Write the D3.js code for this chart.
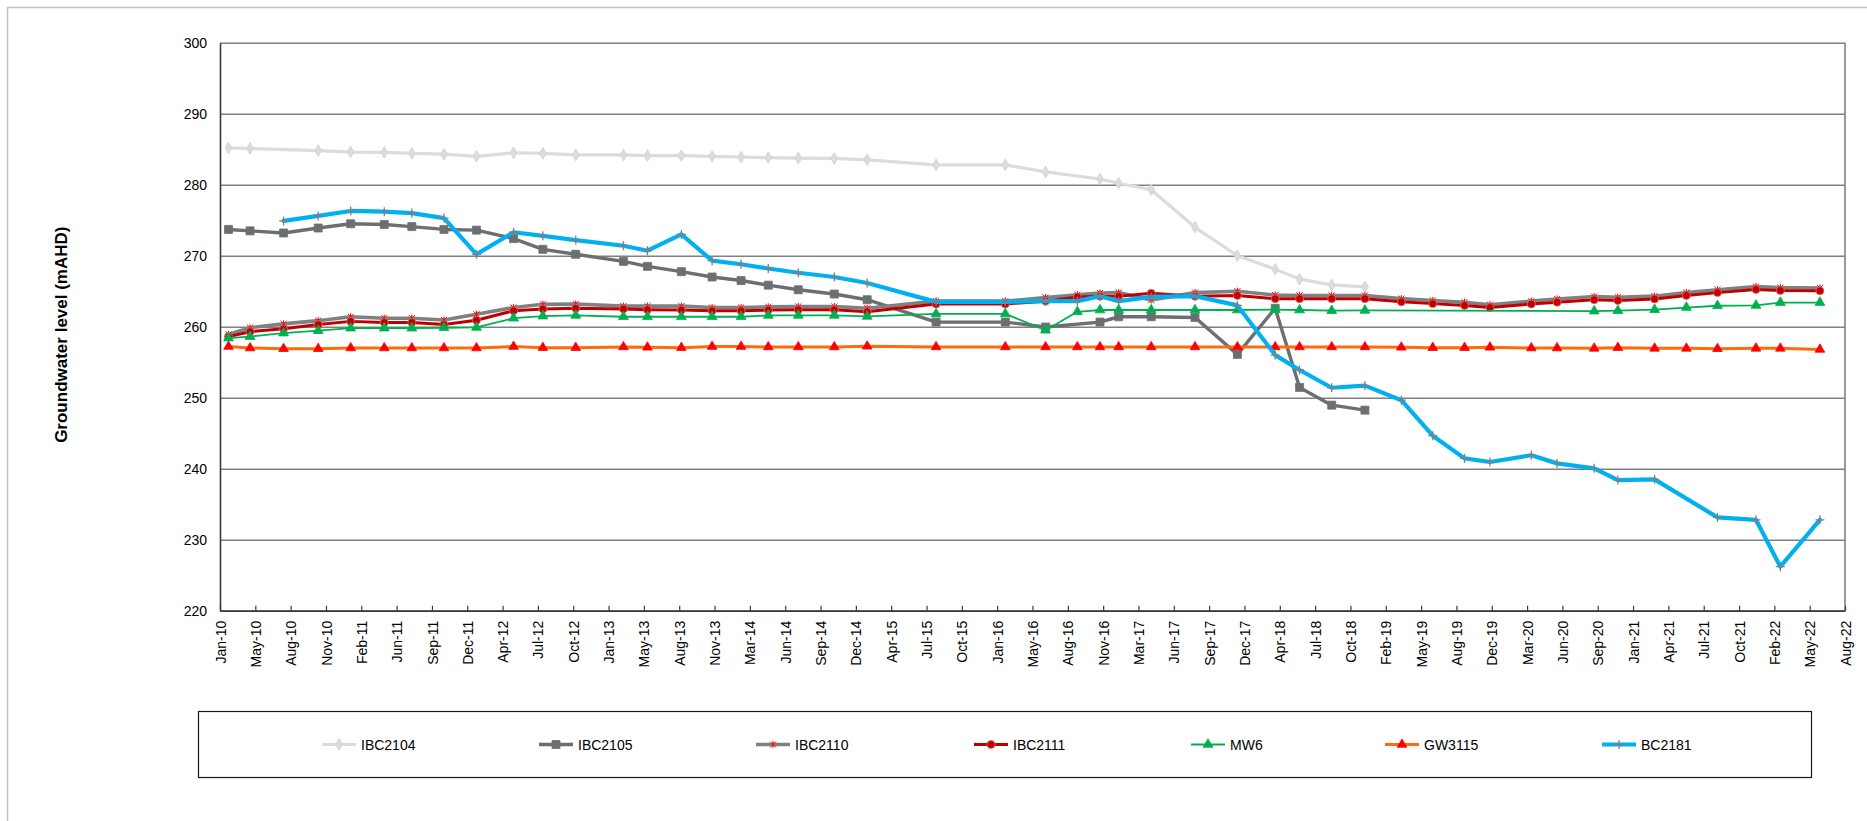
<!DOCTYPE html>
<html>
<head>
<meta charset="utf-8">
<script src="https://cdn.jsdelivr.net/npm/d3@7"></script>
<style>
  html, body { margin: 0; padding: 0; background: #ffffff; }
  svg { display: block; }
  text { font-family: "Liberation Sans", Arial, sans-serif; }
</style>
</head>
<body>
<svg id="chart" width="1867" height="821"></svg>
<script>
// ---------------- DATA ----------------
const dates = [
  "2010-02-15","2010-04-17","2010-07-21","2010-10-27","2011-01-27","2011-05-02","2011-07-19","2011-10-18",
  "2012-01-18","2012-05-02","2012-07-24","2012-10-25","2013-03-09","2013-05-16","2013-08-20","2013-11-15",
  "2014-02-05","2014-04-23","2014-07-17","2014-10-27","2015-01-28","2015-08-11","2016-02-23","2016-06-16",
  "2016-09-14","2016-11-17","2017-01-09","2017-04-11","2017-08-13","2017-12-11","2018-03-28","2018-06-05",
  "2018-09-04","2018-12-07","2019-03-20","2019-06-17","2019-09-15","2019-11-26","2020-03-22","2020-06-03",
  "2020-09-16","2020-11-22","2021-03-06","2021-06-04","2021-08-31","2021-12-18","2022-02-25","2022-06-17"
];

const ibc2104 = [285.2,285.1,null,284.8,284.6,284.55,284.4,284.3,
  284.0,284.5,284.4,284.2,284.2,284.1,284.1,284.0,
  283.9,283.8,283.75,283.7,283.5,282.8,282.8,281.8,
  null,280.8,280.2,279.3,274.0,270.0,268.1,266.7,
  265.9,265.6,null,null,null,null,null,null,
  null,null,null,null,null,null,null,null];

const ibc2105 = [273.7,273.5,273.2,273.9,274.5,274.4,274.1,273.7,
  273.6,272.4,270.9,270.2,269.2,268.5,267.75,267.0,
  266.5,265.85,265.2,264.6,263.8,260.65,260.65,259.95,
  null,260.65,261.4,261.4,261.3,256.1,262.6,251.45,
  248.95,248.25,null,null,null,null,null,null,
  null,null,null,null,null,null,null,null];

const ibc2110 = [258.9,259.85,260.4,260.85,261.4,261.2,261.2,260.95,
  261.75,262.7,263.15,263.2,262.9,262.9,262.9,262.7,
  262.7,262.8,262.85,262.85,262.6,263.6,263.6,264.1,
  264.5,264.75,264.8,263.75,264.8,265.0,264.45,264.4,
  264.4,264.4,263.95,263.7,263.45,263.1,263.6,263.9,
  264.25,264.15,264.3,264.8,265.2,265.65,265.5,265.45];

const ibc2111 = [258.6,259.3,259.7,260.3,260.75,260.6,260.6,260.3,
  260.9,262.25,262.5,262.6,262.5,262.4,262.35,262.25,
  262.25,262.35,262.4,262.4,262.1,263.2,263.2,263.6,
  264.2,264.3,264.3,264.7,264.3,264.4,263.95,263.95,
  263.95,263.95,263.5,263.25,263.0,262.7,263.2,263.45,
  263.8,263.7,263.9,264.4,264.8,265.25,265.1,265.05];

const mw6 = [258.4,258.6,259.1,259.45,259.8,259.8,259.8,259.85,
  259.9,261.2,261.5,261.6,261.4,261.4,261.4,261.4,
  261.4,261.6,261.6,261.6,261.45,261.8,261.8,259.5,
  262.1,262.35,262.35,262.35,262.35,262.35,262.4,262.35,
  262.25,262.3,null,null,null,null,null,null,
  262.2,262.25,262.4,262.7,262.95,263.0,263.4,263.4];

const gw3115 = [257.2,257.0,256.9,256.9,257.0,257.0,257.0,257.0,
  257.0,257.2,257.05,257.05,257.15,257.1,257.05,257.2,
  257.2,257.15,257.15,257.15,257.25,257.15,257.15,257.15,
  257.15,257.15,257.15,257.15,257.15,257.15,257.15,257.15,
  257.15,257.15,257.1,257.05,257.05,257.1,257.0,257.0,
  256.95,257.05,256.95,256.95,256.9,256.95,256.95,256.8];

const bc2181 = [null,null,274.9,275.6,276.3,276.2,276.0,275.3,
  270.2,273.3,272.8,272.2,271.4,270.7,273.0,269.3,
  268.8,268.2,267.6,267.0,266.15,263.5,263.5,263.6,
  263.6,264.3,263.6,264.2,264.3,263.0,256.0,253.9,
  251.4,251.7,249.65,244.65,241.45,240.95,241.9,240.75,
  240.05,238.4,238.5,null,233.15,232.8,226.2,232.8];

const seriesNames = ["IBC2104","IBC2105","IBC2110","IBC2111","MW6","GW3115","BC2181"];

const yTicks = [220,230,240,250,260,270,280,290,300];

const xTickLabels = ["Jan-10","May-10","Aug-10","Nov-10","Feb-11","Jun-11","Sep-11","Dec-11","Apr-12","Jul-12",
  "Oct-12","Jan-13","May-13","Aug-13","Nov-13","Mar-14","Jun-14","Sep-14","Dec-14","Apr-15","Jul-15","Oct-15",
  "Jan-16","May-16","Aug-16","Nov-16","Mar-17","Jun-17","Sep-17","Dec-17","Apr-18","Jul-18","Oct-18","Feb-19",
  "May-19","Aug-19","Dec-19","Mar-20","Jun-20","Sep-20","Jan-21","Apr-21","Jul-21","Oct-21","Feb-22","May-22","Aug-22"];

const axisTitle = "Groundwater level (mAHD)";

// ---------------- LAYOUT ----------------
const svg = d3.select("#chart");
const P = { left: 220, right: 1845, top: 42.7, bottom: 610.7 };
const parse = d3.utcParse("%Y-%m-%d");
const xStart = Date.UTC(2010, 0, 22);
const xEnd = Date.UTC(2022, 7, 27);
const x = d3.scaleUtc().domain([new Date(xStart), new Date(xEnd)]).range([P.left, P.right]);
const y = d3.scaleLinear().domain([220, 300]).range([P.bottom, P.top]);
const FONT = '"Liberation Sans", Arial, sans-serif';

// outer chart-area border
svg.append("rect").attr("x", 7.5).attr("y", 7.5).attr("width", 1900).attr("height", 900)
  .attr("fill", "none").attr("stroke", "#c4c4c4").attr("stroke-width", 1.5);

// gridlines
const yAxisGrid = d3.axisLeft(y).tickValues(yTicks).tickSize(-(P.right - P.left)).tickFormat("");
const grid = svg.append("g").attr("transform", `translate(${P.left},0)`).call(yAxisGrid);
grid.select(".domain").remove();
grid.selectAll(".tick line").attr("stroke", "#808080").attr("stroke-width", 1.6);

// right border of plot
svg.append("line").attr("x1", P.right).attr("x2", P.right).attr("y1", P.top).attr("y2", P.bottom)
  .attr("stroke", "#808080").attr("stroke-width", 1.6);

// y axis
const yAxis = d3.axisLeft(y).tickValues(yTicks).tickSize(0).tickPadding(13).tickFormat(d3.format("d"));
const gy = svg.append("g").attr("transform", `translate(${P.left},0)`).call(yAxis);
gy.select(".domain").attr("stroke", "#3a3a3a").attr("stroke-width", 1.6);
gy.selectAll("text").attr("font-family", FONT).attr("font-size", 14).attr("fill", "#000");

// x axis
const xTickDates = xTickLabels.map((_, i) => d3.utcDay.offset(new Date(xStart), i * 100));
const xAxis = d3.axisBottom(x).tickValues(xTickDates).tickSizeInner(-5).tickSizeOuter(0)
  .tickFormat((d, i) => xTickLabels[i]);
const gx = svg.append("g").attr("transform", `translate(0,${P.bottom})`).call(xAxis);
gx.select(".domain").attr("stroke", "#3a3a3a").attr("stroke-width", 1.8);
gx.selectAll(".tick line").attr("stroke", "#3a3a3a").attr("stroke-width", 1.2);
gx.selectAll("text")
  .attr("font-family", FONT).attr("font-size", 14).attr("fill", "#000")
  .attr("text-anchor", "end")
  .attr("transform", "rotate(-90)")
  .attr("x", -10).attr("y", 0).attr("dy", "0.36em");

// y-axis title
svg.append("text")
  .attr("transform", `translate(63,${(P.top + P.bottom) / 2 + 8}) rotate(-90)`)
  .attr("text-anchor", "middle").attr("dominant-baseline", "middle")
  .attr("font-family", FONT).attr("font-size", 17).attr("font-weight", "bold").attr("fill", "#000")
  .text(axisTitle);

// ---------------- SERIES ----------------
const plusPath = r => `M${-r},0L${r},0M0,${-r}L0,${r}`;
const starPath = r => `M0,${-r}L0,${r}M${-r * 0.85},${-r * 0.85}L${r * 0.85},${r * 0.85}M${-r * 0.85},${r * 0.85}L${r * 0.85},${-r * 0.85}`;

const styles = {
  IBC2104: { values: ibc2104, color: "#dcdcdc", width: 3.2, marker: "diamond", mFill: "#dcdcdc", mStroke: "#d0d0d0", mSize: 40 },
  IBC2105: { values: ibc2105, color: "#6d6e71", width: 3.4, marker: "square", mFill: "#6d6e71", mStroke: "#6d6e71", mSize: 64 },
  IBC2110: { values: ibc2110, color: "#808080", width: 3.6, marker: "star", mFill: "none", mStroke: "#ff0000", mSize: 3.6 },
  IBC2111: { values: ibc2111, color: "#c00000", width: 3.0, marker: "circle", mFill: "#c00000", mStroke: "#e07070", mSize: 50 },
  MW6:     { values: mw6, color: "#00b050", width: 1.8, marker: "triangle", mFill: "#00b050", mStroke: "#00b050", mSize: 42 },
  GW3115:  { values: gw3115, color: "#ff6a0d", width: 3.0, marker: "triangle", mFill: "#ff0000", mStroke: "#ff0000", mSize: 40 },
  BC2181:  { values: bc2181, color: "#00b0f0", width: 4.2, marker: "plus", mFill: "none", mStroke: "#7f7f7f", mSize: 4.5 }
};

const line = d3.line().x(d => x(d.date)).y(d => y(d.v));

function drawMarker(g, st, cx, cy) {
  if (st.marker === "plus") {
    g.append("path").attr("d", plusPath(st.mSize)).attr("transform", `translate(${cx},${cy})`)
      .attr("fill", "none").attr("stroke", st.mStroke).attr("stroke-width", 1.3);
  } else if (st.marker === "star") {
    g.append("path").attr("d", starPath(st.mSize)).attr("transform", `translate(${cx},${cy})`)
      .attr("fill", "none").attr("stroke", st.mStroke).attr("stroke-width", 1);
  } else {
    const type = { diamond: d3.symbolDiamond, square: d3.symbolSquare, circle: d3.symbolCircle, triangle: d3.symbolTriangle }[st.marker];
    g.append("path").attr("d", d3.symbol().type(type).size(st.mSize)())
      .attr("transform", `translate(${cx},${cy})`)
      .attr("fill", st.mFill).attr("stroke", st.mStroke).attr("stroke-width", 0.8);
  }
}

const gSeries = svg.append("g");
seriesNames.forEach(name => {
  const st = styles[name];
  const pts = dates.map((d, i) => ({ date: parse(d), v: st.values[i] })).filter(p => p.v !== null);
  const g = gSeries.append("g").attr("class", "series-" + name);
  g.append("path").datum(pts).attr("d", line)
    .attr("fill", "none").attr("stroke", st.color).attr("stroke-width", st.width)
    .attr("stroke-linejoin", "round").attr("stroke-linecap", "round");
  pts.forEach(p => drawMarker(g, st, x(p.date), y(p.v)));
});

// ---------------- LEGEND ----------------
const L = { x: 198.5, y: 711.5, w: 1613, h: 66 };
svg.append("rect").attr("x", L.x).attr("y", L.y).attr("width", L.w).attr("height", L.h)
  .attr("fill", "#fff").attr("stroke", "#1a1a1a").attr("stroke-width", 1.2);
const legendX = [322, 539, 756, 974, 1191, 1385, 1602];
const ly = 744.5;
seriesNames.forEach((name, i) => {
  const st = styles[name];
  const g = svg.append("g");
  const x0 = legendX[i];
  g.append("line").attr("x1", x0).attr("x2", x0 + 34).attr("y1", ly).attr("y2", ly)
    .attr("stroke", st.color).attr("stroke-width", st.width);
  drawMarker(g, st, x0 + 17, ly);
  g.append("text").attr("x", x0 + 39).attr("y", ly).attr("dy", "0.36em")
    .attr("font-family", FONT).attr("font-size", 14).attr("fill", "#000").text(name);
});
</script>
</body>
</html>
